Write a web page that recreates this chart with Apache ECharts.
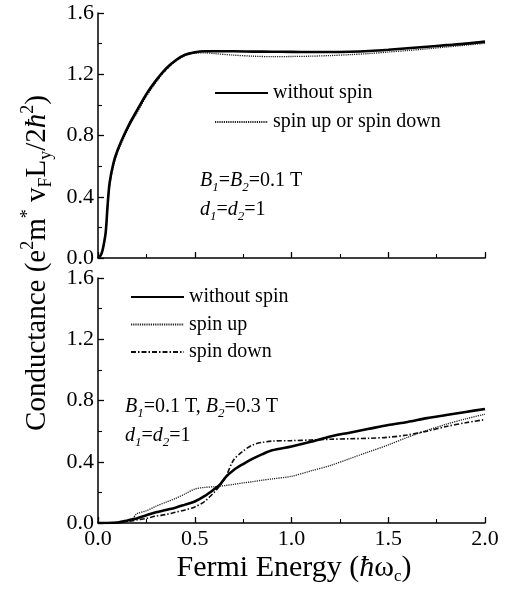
<!DOCTYPE html>
<html><head><meta charset="utf-8">
<script src="https://cdn.jsdelivr.net/npm/echarts@6/dist/echarts.min.js"></script>
<style>html,body{margin:0;padding:0;background:#fff}#c{width:508px;height:593px}</style>
</head><body><div id="c"></div>
<script>
// ---- data ----
const energyTop = [0,0.01,0.02,0.03,0.04,0.05,0.06,0.08,0.1,0.13,0.16,0.2,0.25,0.3,0.35,0.4,0.45,0.5,0.55,0.6,0.7,0.8,0.9,1.0,1.1,1.2,1.3,1.4,1.5,1.6,1.7,1.8,1.9,2.0];
const topWithout = [0,0.01,0.035,0.09,0.17,0.35,0.49,0.62,0.70,0.79,0.87,0.96,1.07,1.16,1.235,1.29,1.327,1.343,1.35,1.35,1.35,1.348,1.347,1.346,1.345,1.345,1.347,1.352,1.36,1.37,1.38,1.39,1.40,1.413];
const topSpin    = [0,0.01,0.033,0.085,0.16,0.33,0.47,0.60,0.685,0.775,0.855,0.945,1.055,1.148,1.225,1.283,1.322,1.34,1.34,1.335,1.325,1.318,1.315,1.316,1.318,1.322,1.328,1.335,1.345,1.355,1.366,1.378,1.39,1.402];

const energyBot = [0,0.05,0.1,0.15,0.18,0.2,0.25,0.3,0.35,0.4,0.45,0.5,0.55,0.6,0.63,0.66,0.7,0.75,0.8,0.85,0.9,1.0,1.1,1.2,1.3,1.4,1.5,1.6,1.7,1.8,1.9,2.0];
const botWithout = [0,0,0.003,0.015,0.025,0.03,0.05,0.07,0.085,0.10,0.12,0.14,0.175,0.22,0.25,0.30,0.345,0.385,0.42,0.45,0.475,0.50,0.53,0.565,0.59,0.615,0.64,0.66,0.685,0.705,0.725,0.745];
const botUp      = [0,0,0.003,0.015,0.03,0.06,0.08,0.11,0.135,0.16,0.19,0.222,0.232,0.237,0.24,0.245,0.252,0.262,0.27,0.28,0.288,0.305,0.34,0.375,0.42,0.465,0.51,0.56,0.605,0.645,0.68,0.71];
const botDown    = [0,0,0.002,0.01,0.015,0.02,0.03,0.045,0.055,0.07,0.085,0.105,0.14,0.2,0.245,0.30,0.41,0.47,0.51,0.527,0.535,0.538,0.542,0.547,0.55,0.553,0.56,0.575,0.60,0.63,0.655,0.675];

const xTicks = [0.0,0.5,1.0,1.5,2.0];
const yTicks = [0.0,0.4,0.8,1.2,1.6];

const FONT = 'Liberation Serif';
const pairs = (xs, ys) => xs.map((x,i)=>[x, ys[i]]);

const chart = echarts.init(document.getElementById('c'), null, {renderer:'canvas'});

const axisCommon = {
  axisLine:{show:true, onZero:false, lineStyle:{color:'#000', width:1.5}},
  axisTick:{show:true, inside:true, length:6, lineStyle:{color:'#000', width:1.3}},
  minorTick:{show:true, splitNumber:2, length:4, lineStyle:{color:'#000', width:1.1}},
  splitLine:{show:false}
};
function xAx(idx, labels){
  return Object.assign({}, axisCommon, {
    type:'value', gridIndex:idx, min:0, max:2, interval:0.5,
    axisLabel:{show:labels, color:'#000', fontFamily:FONT, fontSize:22, margin:5,
      formatter:v=>v.toFixed(1)}
  });
}
function yAx(idx){
  return Object.assign({}, axisCommon, {
    type:'value', gridIndex:idx, min:0, max:1.6, interval:0.4,
    axisLabel:{show:true, color:'#000', fontFamily:FONT, fontSize:22, margin:4,
      formatter:v=>v.toFixed(1)}
  });
}

const solid = {color:'#000', width:2.6, type:'solid'};
const dotted = {color:'#222', width:1.3, type:[1.2,1]};
const dashdot = {color:'#111', width:1.6, type:[5,2,1.5,2]};

function ser(name, xi, data, ls, z){
  return {type:'line', name, xAxisIndex:xi, yAxisIndex:xi, data, showSymbol:false, symbol:'none',
    smooth:0.3, lineStyle:ls, itemStyle:{color:ls.color}, z:z||2, silent:true};
}

const sub = {fontFamily:FONT, fontSize:13, fontStyle:'italic', lineHeight:12, verticalAlign:'bottom', fill:'#000'};
const nrm = {fontFamily:FONT, fontSize:20, lineHeight:26, fill:'#000'};
const ita = {fontFamily:FONT, fontSize:20, lineHeight:26, fontStyle:'italic', fill:'#000'};
function ann(x, y, text){
  return {type:'text', x, y, style:{text, rich:{n:nrm, i:ita, s:sub}, verticalAlign:'middle', align:'left', fill:'#000', fontFamily:FONT, fontSize:20}};
}

const legendCommon = {orient:'vertical', itemWidth:53, itemHeight:14, selectedMode:false,
  itemStyle:{opacity:0, borderWidth:0},
  textStyle:{fontFamily:FONT, fontSize:20, color:'#000', padding:[0,0,0,0]}};

const option = {
  backgroundColor:'#fff',
  animation:false,
  grid:[
    {left:98, top:13, width:387, height:245},
    {left:98, top:278, width:387, height:245}
  ],
  xAxis:[xAx(0,false), xAx(1,true)],
  yAxis:[yAx(0), yAx(1)],
  legend:[
    Object.assign({}, legendCommon, {data:['without spin','spin up or spin down'], left:209, top:78, itemGap:9}),
    Object.assign({}, legendCommon, {data:['without spin ','spin up','spin down'], left:125, top:282, itemGap:7.5})
  ],
  series:[
    ser('spin up or spin down',0,pairs(energyTop,topSpin),dotted,2),
    ser('without spin',0,pairs(energyTop,topWithout),solid,3),
    ser('without spin ',1,pairs(energyBot,botWithout),solid,3),
    ser('spin up',1,pairs(energyBot,botUp),dotted,2),
    ser('spin down',1,pairs(energyBot,botDown),dashdot,2)
  ],
  graphic:[
    ann(200,181,'{i|B}{s|1}{n|=}{i|B}{s|2}{n|=0.1 T}'),
    ann(200,210,'{i|d}{s|1}{n|=}{i|d}{s|2}{n|=1}'),
    ann(125,407,'{i|B}{s|1}{n|=0.1 T, }{i|B}{s|2}{n|=0.3 T}'),
    ann(125,436,'{i|d}{s|1}{n|=}{i|d}{s|2}{n|=1}'),
    {type:'text', x:294, y:568, style:{
      text:'{n|Fermi Energy (}{i|ħ}{n|ω}{s|c}{n|)}', align:'center', verticalAlign:'middle',
      fontFamily:FONT, fontSize:29,
      rich:{n:{fontFamily:FONT,fontSize:30,lineHeight:34,fill:'#000'},
            i:{fontFamily:FONT,fontSize:30,lineHeight:34,fontStyle:'italic',fill:'#000'},
            s:{fontFamily:FONT,fontSize:17,lineHeight:14,verticalAlign:'bottom',fill:'#000'}}}},
    {type:'text', x:37, y:263, rotation:Math.PI/2, style:{
      text:'{n|Conductance (e}{p|2}{n|m}{p|*}{n| v}{s|F}{n|L}{s|y}{n|/2}{i|ħ}{p|2}{n|)}', align:'center', verticalAlign:'middle',
      fontFamily:FONT, fontSize:29,
      rich:{n:{fontFamily:FONT,fontSize:29,lineHeight:36,fill:'#000'},
            i:{fontFamily:FONT,fontSize:29,lineHeight:36,fontStyle:'italic',fill:'#000'},
            p:{fontFamily:FONT,fontSize:18,lineHeight:17,verticalAlign:'top',fill:'#000'},
            s:{fontFamily:FONT,fontSize:18,lineHeight:17,verticalAlign:'bottom',fill:'#000'}}}}
  ]
};
chart.setOption(option);
</script></body></html>
